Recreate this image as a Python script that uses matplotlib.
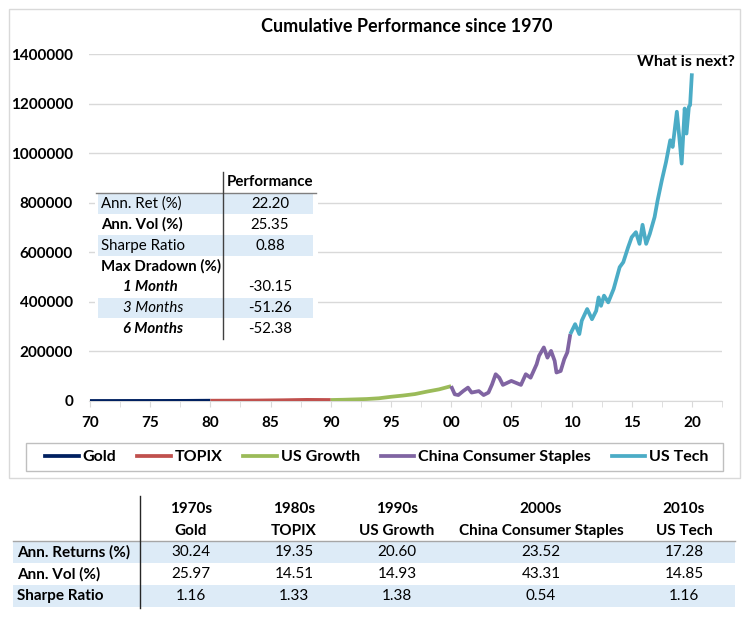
import matplotlib

matplotlib.use("Agg")
import matplotlib.pyplot as plt
from matplotlib.patches import Rectangle
from matplotlib.lines import Line2D

W, H = 749, 619
FONT = "Lato"
GRID = "#d9d9d9"
SHADE = "#ddebf7"

# --- chart data ---
gold_years = [1970, 1972, 1974, 1976, 1978, 1980]
gold_vals = [100, 150, 300, 350, 600, 1200]

topix_years = [1980, 1982, 1984, 1986, 1988, 1990]
topix_vals = [1200, 1500, 2000, 3000, 4500, 4000]

growth_years = [1990, 1991, 1992, 1993, 1994, 1995, 1996, 1997, 1998, 1999, 2000]
growth_vals = [4000, 5000, 6500, 8000, 11000, 17000, 22000, 28000, 38000, 47000, 60000]

china_years = [2000.0, 2000.3, 2000.6, 2001.0, 2001.4, 2001.7, 2002.3, 2002.7, 2003.1,
               2003.4, 2003.7, 2004.0, 2004.3, 2005.0, 2005.8, 2006.2, 2006.6, 2007.1,
               2007.3, 2007.7, 2008.0, 2008.3, 2008.6, 2008.75, 2009.1, 2009.4, 2009.65,
               2009.9]
china_vals = [60000, 27000, 24000, 40000, 54000, 34000, 40000, 24000, 34000,
              67000, 108000, 94000, 65000, 81000, 65000, 108000, 94000, 148000,
              182000, 216000, 175000, 202000, 162000, 115000, 121000, 169000, 196000,
              270000]

tech_years = [2009.9, 2010.3, 2010.65, 2010.85, 2011.3, 2011.7, 2012.05, 2012.25, 2012.45,
              2012.7, 2013.05, 2013.5, 2014.0, 2014.3, 2014.7, 2015.0, 2015.35, 2015.65,
              2015.9, 2016.2, 2016.5, 2016.9, 2017.15, 2017.5, 2017.85, 2018.2, 2018.4,
              2018.75, 2018.95, 2019.15, 2019.4, 2019.55, 2019.75, 2019.85, 2020.0]
tech_vals = [270000, 310000, 270000, 324000, 371000, 330000, 364000, 418000, 384000,
             425000, 398000, 452000, 540000, 560000, 620000, 661000, 681000, 634000,
             711000, 634000, 674000, 742000, 809000, 890000, 964000, 1052000, 1025000,
             1167000, 1066000, 958000, 1180000, 1079000, 1187000, 1194000, 1322000]

series_names = ["Gold", "TOPIX", "US Growth", "China Consumer Staples", "US Tech"]
series_colors = ["#002060", "#c0504d", "#9bbb59", "#8064a2", "#4bacc6"]

x_ticks = [1970, 1975, 1980, 1985, 1990, 1995, 2000, 2005, 2010, 2015, 2020]
x_labels = ["70", "75", "80", "85", "90", "95", "00", "05", "10", "15", "20"]
y_ticks = [0, 200000, 400000, 600000, 800000, 1000000, 1200000, 1400000]

# inset table
perf_labels = ["Ann. Ret (%)", "Ann. Vol (%)", "Sharpe Ratio", "Max Dradown (%)",
               "1 Month", "3 Months", "6 Months"]
perf_values = ["22.20", "25.35", "0.88", "", "-30.15", "-51.26", "-52.38"]

# bottom table
decades = ["1970s", "1980s", "1990s", "2000s", "2010s"]
decade_assets = ["Gold", "TOPIX", "US Growth", "China Consumer Staples", "US Tech"]
stat_rows = ["Ann. Returns (%)", "Ann. Vol (%)", "Sharpe Ratio"]
ann_returns = ["30.24", "19.35", "20.60", "23.52", "17.28"]
ann_vol = ["25.97", "14.51", "14.93", "43.31", "14.85"]
sharpe = ["1.16", "1.33", "1.38", "0.54", "1.16"]


def fx(x):
    return x / W


def fy(y):
    return 1 - y / H


plt.rcParams["font.family"] = [FONT, "DejaVu Sans"]
fig = plt.figure(figsize=(W / 100, H / 100), dpi=100)

# outer chart border
fig.patches.append(Rectangle((fx(9), fy(478)), fx(740) - fx(9), fy(9) - fy(478),
                             transform=fig.transFigure, fill=False,
                             edgecolor=GRID, lw=1, zorder=0))

ax = fig.add_axes([fx(89), fy(401), fx(722) - fx(89), fy(54) - fy(401)])
xs = [gold_years, topix_years, growth_years, china_years, tech_years]
ys = [gold_vals, topix_vals, growth_vals, china_vals, tech_vals]
for x, y, c in zip(xs, ys, series_colors):
    ax.plot(x, y, color=c, lw=2.7, solid_capstyle="butt", zorder=3)

ax.set_xlim(1969.92, 2022.1)
ax.set_ylim(0, 1400000)
ax.set_yticks(y_ticks)
ax.set_yticklabels([str(v) for v in y_ticks], fontsize=11, fontweight="bold")
ax.set_xticks(x_ticks)
ax.set_xticklabels(x_labels, fontsize=11, fontweight="bold")
ax.set_xticks([t + 2.5 for t in x_ticks[:-1]] + [2022.5], minor=True)
ax.tick_params(axis="y", length=0, pad=11.5)
ax.tick_params(axis="x", which="both", direction="out", length=4, color=GRID, pad=7)
ax.grid(axis="y", color=GRID, lw=1)
ax.set_axisbelow(True)
for s in ["left", "right", "top"]:
    ax.spines[s].set_visible(False)
ax.spines["bottom"].set_color(GRID)

fig.text(fx(407), fy(27), "Cumulative Performance since 1970", ha="center",
         va="center", fontsize=13, fontweight="bold")
fig.text(fx(686), fy(62), "What is next?", ha="center", va="center",
         fontsize=11.5, fontweight="bold")

# inset performance table
fig.patches.append(Rectangle((fx(95), fy(342)), fx(318) - fx(95), fy(168) - fy(342),
                             transform=fig.transFigure, facecolor="white",
                             edgecolor="none", zorder=2))
row_h = 20.8
row0 = 204
for i, (lab, val) in enumerate(zip(perf_labels, perf_values)):
    yc = row0 + i * row_h
    if i in (0, 2, 5):
        fig.patches.append(Rectangle((fx(98), fy(yc + row_h / 2)), fx(313) - fx(98),
                                     row_h / H, transform=fig.transFigure,
                                     facecolor=SHADE, edgecolor="none", zorder=3))
    weight = "bold" if i in (1, 3, 4, 6) else "normal"
    style = "italic" if i >= 4 else "normal"
    xl = 123 if i >= 4 else 101
    fig.text(fx(xl), fy(yc), lab, ha="left", va="center", fontsize=10.8,
             fontweight=weight, fontstyle=style, zorder=4)
    fig.text(fx(270), fy(yc), val, ha="center", va="center", fontsize=10.8, zorder=4)
fig.text(fx(270), fy(182), "Performance", ha="center", va="center", fontsize=10.8,
         fontweight="bold", zorder=4)
fig.lines.append(Line2D([fx(96), fx(316)], [fy(193), fy(193)], transform=fig.transFigure,
                        color="#7f7f7f", lw=1, zorder=5))
fig.lines.append(Line2D([fx(223), fx(223)], [fy(172), fy(339)], transform=fig.transFigure,
                        color="#404040", lw=1, zorder=5))

# legend
fig.patches.append(Rectangle((fx(26), fy(471)), fx(723) - fx(26), fy(443) - fy(471),
                             transform=fig.transFigure, fill=False,
                             edgecolor="#bfbfbf", lw=1, zorder=1))
handles = [Line2D([0], [0], color=c, lw=2.7) for c in series_colors]
fig.legend(handles, series_names, loc="center", bbox_to_anchor=(fx(377), fy(457)),
           ncol=5, frameon=False, prop={"size": 11.5, "weight": "bold"},
           handlelength=2.1, handletextpad=0.25, columnspacing=1.3)

# bottom table
col_x = [191, 294, 397, 541, 684]
for cx, dec, asset in zip(col_x, decades, decade_assets):
    fig.text(fx(cx), fy(509), dec, ha="center", va="center", fontsize=11, fontweight="bold")
    fig.text(fx(cx), fy(531), asset, ha="center", va="center", fontsize=11,
             fontweight="bold")
row_y = [552, 574, 596]
for r, (name, vals) in enumerate(zip(stat_rows, [ann_returns, ann_vol, sharpe])):
    yc = row_y[r]
    if r != 1:
        fig.patches.append(Rectangle((fx(13), fy(yc + 11.3)), fx(735) - fx(13), 22.6 / H,
                                     transform=fig.transFigure, facecolor=SHADE,
                                     edgecolor="none", zorder=1))
    fig.text(fx(17), fy(yc), name, ha="left", va="center", fontsize=11, fontweight="bold")
    for cx, v in zip(col_x, vals):
        fig.text(fx(cx), fy(yc), v, ha="center", va="center", fontsize=11)
fig.lines.append(Line2D([fx(13), fx(735)], [fy(541), fy(541)], transform=fig.transFigure,
                        color="#a6a6a6", lw=1, zorder=2))
fig.lines.append(Line2D([fx(140), fx(140)], [fy(496), fy(608)], transform=fig.transFigure,
                        color="#262626", lw=1, zorder=2))

fig.savefig("out.png", dpi=100)
